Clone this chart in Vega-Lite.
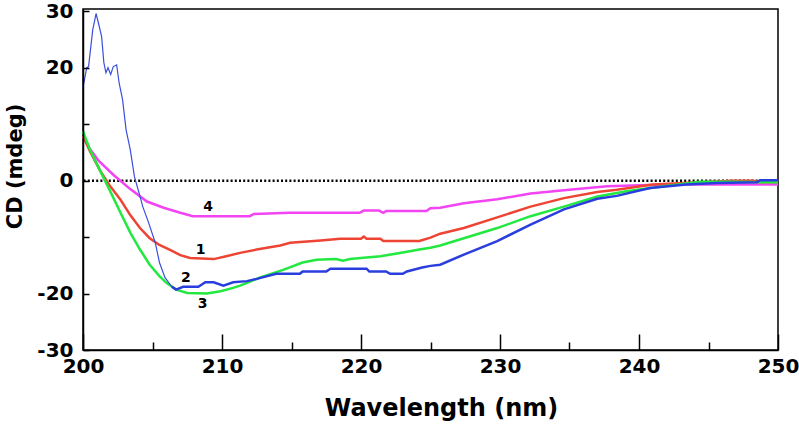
{
  "$schema": "https://vega.github.io/schema/vega-lite/v6.json",
  "width": 695,
  "height": 341,
  "autosize": {"type": "none"},
  "padding": {"left": 83, "top": 9, "right": 21, "bottom": 75},
  "background": "white",
  "config": {
    "view": {"stroke": "black", "strokeWidth": 1.5},
    "font": "DejaVu Sans"
  },
  "datasets": {
    "cd": [
      {"s": "4", "wl": 200, "cd": 7.8}, {"s": "4", "wl": 200.5, "cd": 5.6}, {"s": "4", "wl": 201.1, "cd": 3.6}, {"s": "4", "wl": 202.2, "cd": 1.0}, {"s": "4", "wl": 203.4, "cd": -1.5}, {"s": "4", "wl": 204.6, "cd": -3.7}, {"s": "4", "wl": 205.8, "cd": -4.8}, {"s": "4", "wl": 207, "cd": -5.7}, {"s": "4", "wl": 207.9, "cd": -6.3}, {"s": "4", "wl": 212, "cd": -6.3}, {"s": "4", "wl": 212.3, "cd": -5.9}, {"s": "4", "wl": 214.9, "cd": -5.7}, {"s": "4", "wl": 219.9, "cd": -5.7}, {"s": "4", "wl": 220.2, "cd": -5.3}, {"s": "4", "wl": 221.3, "cd": -5.3}, {"s": "4", "wl": 221.6, "cd": -5.7}, {"s": "4", "wl": 221.8, "cd": -5.4}, {"s": "4", "wl": 224.7, "cd": -5.4}, {"s": "4", "wl": 225, "cd": -4.9}, {"s": "4", "wl": 225.7, "cd": -4.8}, {"s": "4", "wl": 227.4, "cd": -4.0}, {"s": "4", "wl": 229.8, "cd": -3.3}, {"s": "4", "wl": 232.2, "cd": -2.3}, {"s": "4", "wl": 234.6, "cd": -1.7}, {"s": "4", "wl": 237.7, "cd": -1.0}, {"s": "4", "wl": 242, "cd": -0.7}, {"s": "4", "wl": 250, "cd": -0.7},
      {"s": "1", "wl": 200, "cd": 7.9}, {"s": "1", "wl": 200.5, "cd": 5.2}, {"s": "1", "wl": 201.2, "cd": 1.9}, {"s": "1", "wl": 201.9, "cd": -0.8}, {"s": "1", "wl": 202.7, "cd": -3.4}, {"s": "1", "wl": 203.4, "cd": -6.1}, {"s": "1", "wl": 204.1, "cd": -8.4}, {"s": "1", "wl": 204.8, "cd": -10.2}, {"s": "1", "wl": 205.5, "cd": -11.4}, {"s": "1", "wl": 206.3, "cd": -12.3}, {"s": "1", "wl": 207, "cd": -13.2}, {"s": "1", "wl": 207.7, "cd": -13.7}, {"s": "1", "wl": 209.4, "cd": -13.9}, {"s": "1", "wl": 210.3, "cd": -13.4}, {"s": "1", "wl": 211.3, "cd": -12.8}, {"s": "1", "wl": 212.7, "cd": -12.1}, {"s": "1", "wl": 214.2, "cd": -11.5}, {"s": "1", "wl": 214.9, "cd": -11.0}, {"s": "1", "wl": 217.1, "cd": -10.6}, {"s": "1", "wl": 218.5, "cd": -10.3}, {"s": "1", "wl": 220, "cd": -10.3}, {"s": "1", "wl": 220.2, "cd": -9.9}, {"s": "1", "wl": 220.4, "cd": -10.3}, {"s": "1", "wl": 221.4, "cd": -10.3}, {"s": "1", "wl": 221.6, "cd": -10.7}, {"s": "1", "wl": 224.2, "cd": -10.7}, {"s": "1", "wl": 225, "cd": -10.1}, {"s": "1", "wl": 225.7, "cd": -9.4}, {"s": "1", "wl": 227.4, "cd": -8.4}, {"s": "1", "wl": 229.8, "cd": -6.5}, {"s": "1", "wl": 232.2, "cd": -4.6}, {"s": "1", "wl": 234.6, "cd": -3.1}, {"s": "1", "wl": 237, "cd": -2.0}, {"s": "1", "wl": 238.4, "cd": -1.6}, {"s": "1", "wl": 241, "cd": -0.7}, {"s": "1", "wl": 244.4, "cd": -0.3}, {"s": "1", "wl": 246.8, "cd": 0}, {"s": "1", "wl": 248.2, "cd": 0}, {"s": "1", "wl": 248.7, "cd": -0.3}, {"s": "1", "wl": 250, "cd": -0.3},
      {"s": "3", "wl": 200, "cd": 8.7}, {"s": "3", "wl": 200.5, "cd": 5.5}, {"s": "3", "wl": 201.2, "cd": 1.9}, {"s": "3", "wl": 201.9, "cd": -1.6}, {"s": "3", "wl": 202.7, "cd": -5.7}, {"s": "3", "wl": 203.4, "cd": -9.2}, {"s": "3", "wl": 204.1, "cd": -12.2}, {"s": "3", "wl": 204.8, "cd": -14.9}, {"s": "3", "wl": 205.5, "cd": -16.9}, {"s": "3", "wl": 206, "cd": -18.1}, {"s": "3", "wl": 206.7, "cd": -19.3}, {"s": "3", "wl": 207.5, "cd": -19.9}, {"s": "3", "wl": 208.9, "cd": -20.0}, {"s": "3", "wl": 209.9, "cd": -19.6}, {"s": "3", "wl": 210.8, "cd": -19.0}, {"s": "3", "wl": 211.3, "cd": -18.6}, {"s": "3", "wl": 211.8, "cd": -18.1}, {"s": "3", "wl": 212.7, "cd": -17.2}, {"s": "3", "wl": 214.4, "cd": -15.8}, {"s": "3", "wl": 215.8, "cd": -14.5}, {"s": "3", "wl": 216.8, "cd": -14.0}, {"s": "3", "wl": 218.2, "cd": -13.9}, {"s": "3", "wl": 218.7, "cd": -14.2}, {"s": "3", "wl": 219.2, "cd": -13.9}, {"s": "3", "wl": 221.4, "cd": -13.4}, {"s": "3", "wl": 222.8, "cd": -12.8}, {"s": "3", "wl": 224.2, "cd": -12.2}, {"s": "3", "wl": 225, "cd": -11.9}, {"s": "3", "wl": 225.7, "cd": -11.5}, {"s": "3", "wl": 227.4, "cd": -10.2}, {"s": "3", "wl": 229.8, "cd": -8.4}, {"s": "3", "wl": 232.2, "cd": -6.3}, {"s": "3", "wl": 234.6, "cd": -4.6}, {"s": "3", "wl": 237, "cd": -2.8}, {"s": "3", "wl": 238.4, "cd": -2.2}, {"s": "3", "wl": 239.1, "cd": -1.9}, {"s": "3", "wl": 241.5, "cd": -1.1}, {"s": "3", "wl": 244.4, "cd": -0.2}, {"s": "3", "wl": 246.8, "cd": -0.2}, {"s": "3", "wl": 249.2, "cd": -0.3}, {"s": "3", "wl": 250, "cd": -0.3},
      {"s": "2", "wl": 200, "cd": 16.5}, {"s": "2", "wl": 200.27, "cd": 20.0}, {"s": "2", "wl": 200.4, "cd": 20.2}, {"s": "2", "wl": 200.7, "cd": 26.7}, {"s": "2", "wl": 200.94, "cd": 29.6}, {"s": "2", "wl": 201.17, "cd": 27.3}, {"s": "2", "wl": 201.34, "cd": 25.5}, {"s": "2", "wl": 201.5, "cd": 20.9}, {"s": "2", "wl": 201.65, "cd": 19.1}, {"s": "2", "wl": 201.8, "cd": 20.0}, {"s": "2", "wl": 201.99, "cd": 18.8}, {"s": "2", "wl": 202.18, "cd": 20.2}, {"s": "2", "wl": 202.42, "cd": 20.5}, {"s": "2", "wl": 202.6, "cd": 17.3}, {"s": "2", "wl": 202.85, "cd": 14.3}, {"s": "2", "wl": 203.1, "cd": 9.0}, {"s": "2", "wl": 203.4, "cd": 5.5}, {"s": "2", "wl": 203.7, "cd": 0.7}, {"s": "2", "wl": 204.1, "cd": -2.8}, {"s": "2", "wl": 204.3, "cd": -4.6}, {"s": "2", "wl": 204.7, "cd": -7.3}, {"s": "2", "wl": 205.2, "cd": -11.0}, {"s": "2", "wl": 205.5, "cd": -14.5}, {"s": "2", "wl": 205.9, "cd": -17.2}, {"s": "2", "wl": 206.4, "cd": -18.8}, {"s": "2", "wl": 206.7, "cd": -19.3}, {"s": "2", "wl": 207.2, "cd": -18.8}, {"s": "2", "wl": 208.3, "cd": -18.8}, {"s": "2", "wl": 208.8, "cd": -18.0}, {"s": "2", "wl": 209.4, "cd": -18.0}, {"s": "2", "wl": 210.1, "cd": -18.6}, {"s": "2", "wl": 210.8, "cd": -18.0}, {"s": "2", "wl": 211.8, "cd": -17.8}, {"s": "2", "wl": 212.5, "cd": -17.4}, {"s": "2", "wl": 213.9, "cd": -16.5}, {"s": "2", "wl": 215.6, "cd": -16.5}, {"s": "2", "wl": 215.8, "cd": -16.1}, {"s": "2", "wl": 217.5, "cd": -16.1}, {"s": "2", "wl": 217.8, "cd": -15.6}, {"s": "2", "wl": 220.4, "cd": -15.6}, {"s": "2", "wl": 220.6, "cd": -16.1}, {"s": "2", "wl": 221.8, "cd": -16.1}, {"s": "2", "wl": 222.1, "cd": -16.5}, {"s": "2", "wl": 223, "cd": -16.5}, {"s": "2", "wl": 223.3, "cd": -16.1}, {"s": "2", "wl": 224.4, "cd": -15.4}, {"s": "2", "wl": 225, "cd": -15.1}, {"s": "2", "wl": 225.7, "cd": -14.9}, {"s": "2", "wl": 227.4, "cd": -13.1}, {"s": "2", "wl": 229.8, "cd": -10.7}, {"s": "2", "wl": 232.2, "cd": -7.8}, {"s": "2", "wl": 234.6, "cd": -5.1}, {"s": "2", "wl": 237, "cd": -3.2}, {"s": "2", "wl": 238.4, "cd": -2.7}, {"s": "2", "wl": 240.8, "cd": -1.3}, {"s": "2", "wl": 243.4, "cd": -0.7}, {"s": "2", "wl": 245.6, "cd": -0.4}, {"s": "2", "wl": 248.5, "cd": -0.3}, {"s": "2", "wl": 248.7, "cd": 0.05}, {"s": "2", "wl": 250, "cd": 0.05}
    ],
    "zero": [{"wl": 200, "cd": 0}, {"wl": 250, "cd": 0}],
    "labels": [
      {"t": "4", "wl": 209.0, "cd": -4.6},
      {"t": "1", "wl": 208.47, "cd": -12.3},
      {"t": "2", "wl": 207.4, "cd": -17.2},
      {"t": "3", "wl": 208.6, "cd": -21.8}
    ]
  },
  "data": {"name": "cd"},
  "encoding": {
    "x": {
      "field": "wl", "type": "quantitative",
      "scale": {"domain": [200, 250], "nice": false, "zero": false},
      "axis": {
        "values": [200, 205, 210, 215, 220, 225, 230, 235, 240, 245, 250],
        "labelExpr": "datum.value % 10 == 0 ? datum.label : ''",
        "ticks": true,
        "tickSize": {"condition": {"test": "datum.value % 10 == 0", "value": -16}, "value": -8},
        "labelPadding": 22,
        "labelFlush": false,
        "grid": false,
        "zindex": 1,
        "domainColor": "black", "domainWidth": 1.5,
        "tickColor": "black", "tickWidth": 1.5,
        "labelFont": "DejaVu Sans", "labelFontWeight": "bold", "labelFontSize": 20, "labelColor": "black",
        "title": "Wavelength (nm)",
        "titleFont": "DejaVu Sans", "titleFontWeight": "bold", "titleFontSize": 24, "titleColor": "black",
        "titleX": 358, "titleY": 65, "titleAlign": "center", "titleBaseline": "alphabetic"
      }
    },
    "y": {
      "field": "cd", "type": "quantitative",
      "scale": {"domain": [-30, 30.4], "nice": false, "zero": false},
      "axis": {
        "values": [-30, -20, -10, 0, 10, 20, 30],
        "labelExpr": "datum.value == 10 || datum.value == -10 ? '' : '' + datum.value",
        "ticks": true,
        "tickSize": -6,
        "labelPadding": 16,
        "grid": false,
        "zindex": 1,
        "domainColor": "black", "domainWidth": 1.5,
        "tickColor": "black", "tickWidth": 1.5,
        "labelFont": "DejaVu Sans", "labelFontWeight": "bold", "labelFontSize": 20, "labelColor": "black",
        "title": "CD (mdeg)",
        "titleFont": "DejaVu Sans", "titleFontWeight": "bold", "titleFontSize": 21, "titleColor": "black",
        "titleX": -68, "titleY": 157, "titleAngle": -90, "titleAlign": "center", "titleBaseline": "middle"
      }
    }
  },
  "layer": [
    {
      "data": {"name": "zero"},
      "mark": {"type": "line", "color": "black", "strokeWidth": 2.5, "strokeDash": [2, 2.2], "strokeDashOffset": -9}
    },
    {
      "transform": [{"filter": "datum.s == '4'"}],
      "mark": {"type": "line", "color": "#f244f2", "strokeWidth": 2.5}
    },
    {
      "transform": [{"filter": "datum.s == '1'"}],
      "mark": {"type": "line", "color": "#ee4433", "strokeWidth": 2.5}
    },
    {
      "transform": [{"filter": "datum.s == '3'"}],
      "mark": {"type": "line", "color": "#22e840", "strokeWidth": 2.5}
    },
    {
      "transform": [{"filter": "datum.s == '2' && datum.wl <= 206.7"}],
      "mark": {"type": "line", "color": "#3a50dc", "strokeWidth": 1.2}
    },
    {
      "transform": [{"filter": "datum.s == '2' && datum.wl >= 206.4"}],
      "mark": {"type": "line", "color": "#2a3ede", "strokeWidth": 2.5}
    },
    {
      "data": {"name": "labels"},
      "mark": {"type": "text", "font": "DejaVu Sans", "fontWeight": "bold", "fontSize": 14, "color": "black", "align": "center", "baseline": "middle"},
      "encoding": {"text": {"field": "t", "type": "nominal"}}
    }
  ]
}
